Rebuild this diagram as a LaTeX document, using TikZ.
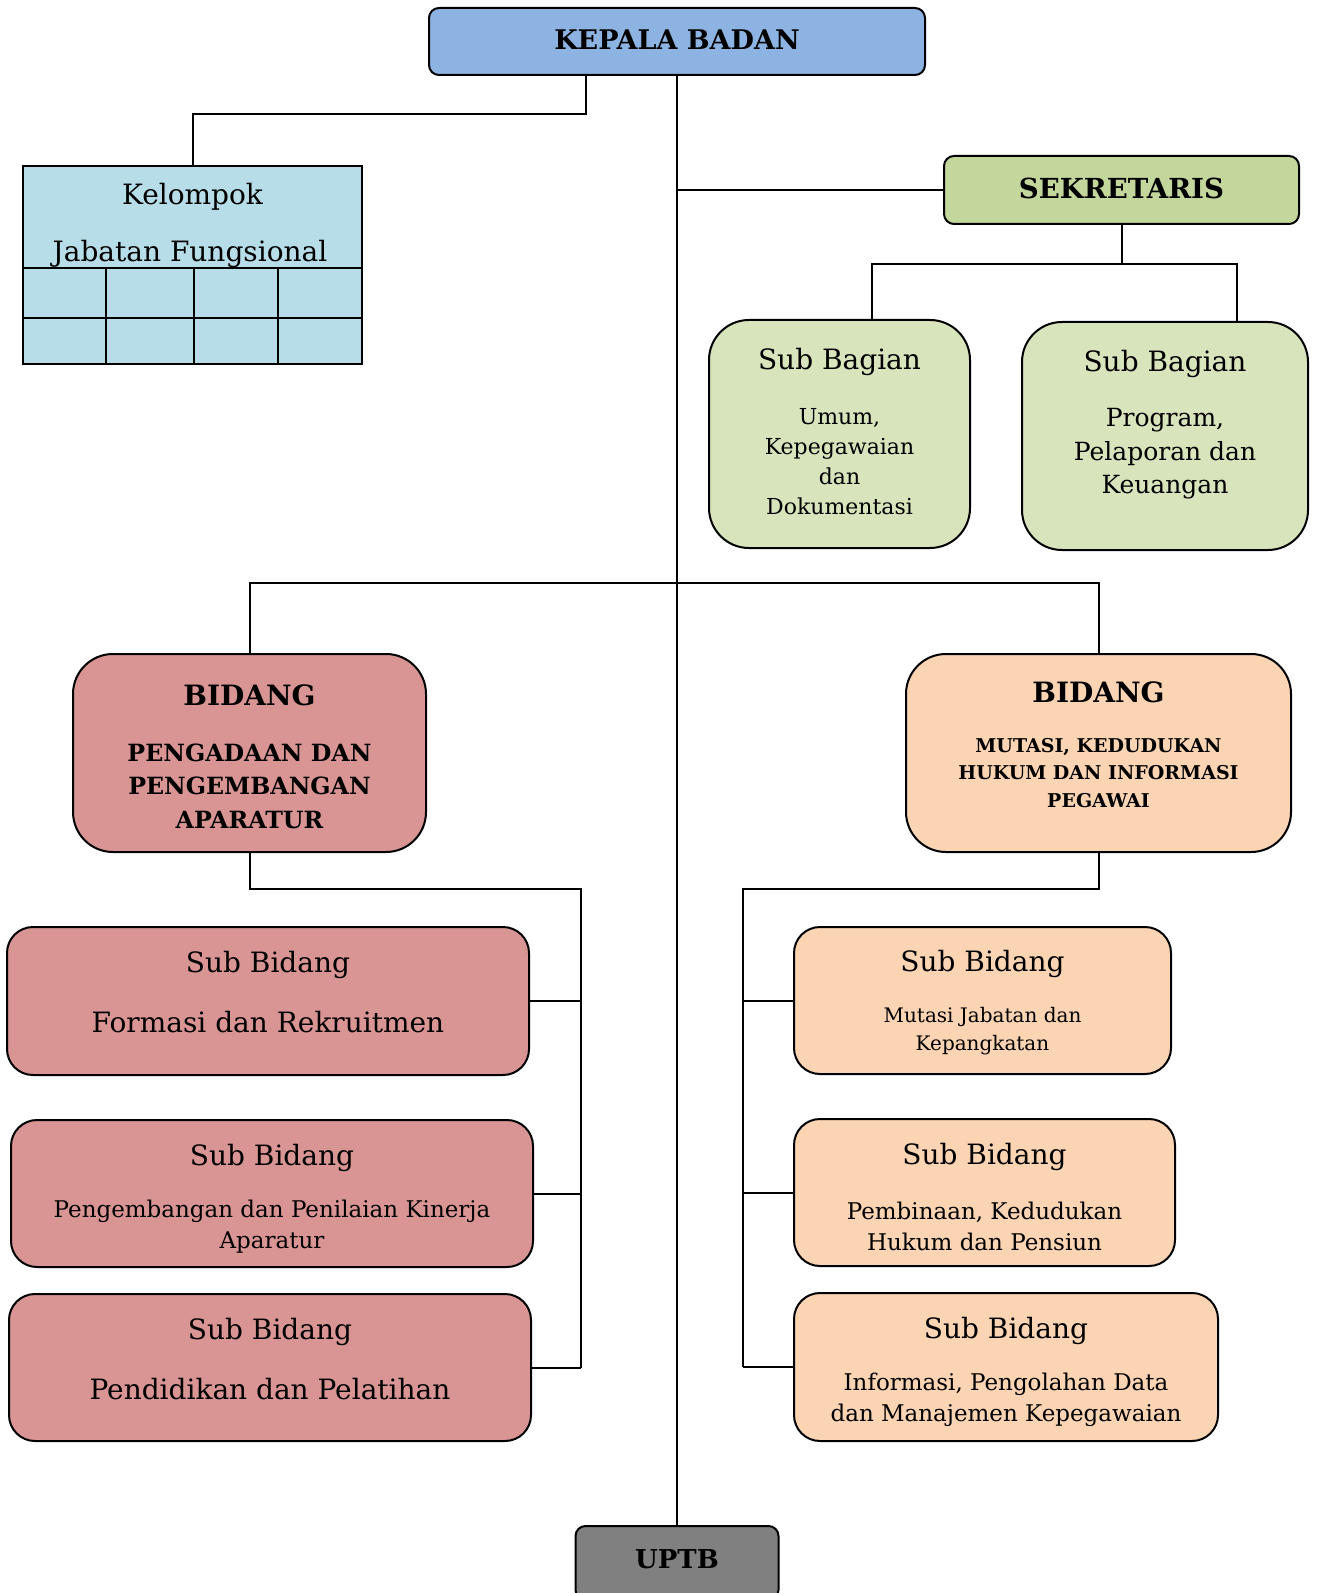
\documentclass[tikz,border=0pt]{standalone}
\usepackage{fontspec}
\setmainfont{DejaVu Serif}
\definecolor{cKepala}{HTML}{8DB3E2}
\definecolor{cJab}{HTML}{B6DDE8}
\definecolor{cSek}{HTML}{C3D69B}
\definecolor{cSubBag}{HTML}{D7E4BC}
\definecolor{cBidL}{HTML}{D99594}
\definecolor{cBidR}{HTML}{FBD4B4}
\definecolor{cUptb}{HTML}{808080}
\tikzset{
  box/.style={draw=black, line width=1pt, inner sep=0pt, outer sep=0pt},
  conn/.style={draw=black, line width=1pt},
  txt/.style={inner sep=0pt, align=center, text=black},
}
\newcommand{\fs}[2]{\fontsize{#1}{#2}\selectfont}
\begin{document}
\begin{tikzpicture}[x=0.5pt, y=-0.5pt]
\useasboundingbox (0,0) rectangle (1321,1593);
% boxes
\node[box, fill=cKepala, rounded corners=5pt, minimum width=248pt, minimum height=33.5pt] (kepala) at (677,41.5) {};
\node[box, fill=cJab, minimum width=169.5pt, minimum height=99pt] (jab) at (192.5,265) {};
\node[box, fill=cSek, rounded corners=5pt, minimum width=177.5pt, minimum height=34pt] (sek) at (1121.5,190) {};
\node[box, fill=cSubBag, rounded corners=20pt, minimum width=130.5pt, minimum height=114pt] (sb1) at (839.5,434) {};
\node[box, fill=cSubBag, rounded corners=20pt, minimum width=143pt, minimum height=114pt] (sb2) at (1165,436) {};
\node[box, fill=cBidL, rounded corners=20pt, minimum width=176.5pt, minimum height=99pt] (bl) at (249.5,753) {};
\node[box, fill=cBidR, rounded corners=20pt, minimum width=192.5pt, minimum height=99pt] (br) at (1098.5,753) {};
\node[box, fill=cBidL, rounded corners=13pt, minimum width=261pt, minimum height=74pt] (l1) at (268,1001) {};
\node[box, fill=cBidL, rounded corners=13pt, minimum width=261pt, minimum height=73.5pt] (l2) at (272,1193.5) {};
\node[box, fill=cBidL, rounded corners=13pt, minimum width=261pt, minimum height=73.5pt] (l3) at (270,1367.5) {};
\node[box, fill=cBidR, rounded corners=13pt, minimum width=188.5pt, minimum height=73.5pt] (r1) at (982.5,1000.5) {};
\node[box, fill=cBidR, rounded corners=13pt, minimum width=190.5pt, minimum height=73.5pt] (r2) at (984.5,1192.5) {};
\node[box, fill=cBidR, rounded corners=13pt, minimum width=212pt, minimum height=74pt] (r3) at (1006,1367) {};
\node[box, fill=cUptb, rounded corners=5pt, minimum width=101.5pt, minimum height=37pt] (uptb) at (677,1563) {};
% grid inside Jabatan Fungsional box
\draw[conn] (23,268) -- (362,268);
\draw[conn] (23,318) -- (362,318);
\draw[conn] (106,268) -- (106,364);
\draw[conn] (194,268) -- (194,364);
\draw[conn] (278,268) -- (278,364);
% texts
\node[txt, font=\bfseries\fs{13.5}{16}] (t-kepala) at (677,40) {KEPALA BADAN};
\node[txt, font=\fs{14}{16}] (t-jab1) at (192.5,197) {Kelompok};
\node[txt, font=\fs{14}{16}] (t-jab2) at (190,254) {Jabatan Fungsional};
\node[txt, font=\bfseries\fs{13.8}{16}] (t-sek) at (1121.5,188) {SEKRETARIS};
\node[txt, font=\fs{14}{16}] (t-sb1a) at (839.5,362) {Sub Bagian};
\node[txt, font=\fs{11}{15}] (t-sb1b) at (839.5,461.5) {Umum,\\Kepegawaian\\dan\\Dokumentasi};
\node[txt, font=\fs{14}{16}] (t-sb2a) at (1165,364) {Sub Bagian};
\node[txt, font=\fs{12.5}{16.75}] (t-sb2b) at (1165,454) {Program,\\Pelaporan dan\\Keuangan};
\node[txt, font=\bfseries\fs{14}{16}] (t-bl1) at (249.5,695) {BIDANG};
\node[txt, font=\bfseries\fs{11.85}{16.75}] (t-bl2) at (249.5,786) {PENGADAAN DAN\\PENGEMBANGAN\\APARATUR};
\node[txt, font=\bfseries\fs{14}{16}] (t-br1) at (1098.5,692) {BIDANG};
\node[txt, font=\bfseries\fs{9.5}{13.75}] (t-br2) at (1098.5,773) {MUTASI, KEDUDUKAN\\HUKUM DAN INFORMASI\\PEGAWAI};
\node[txt, font=\fs{14}{16}] (t-l1a) at (268,965) {Sub Bidang};
\node[txt, font=\fs{14}{16}] (t-l1b) at (268,1022) {Formasi dan Rekruitmen};
\node[txt, font=\fs{14}{16}] (t-l2a) at (272,1158) {Sub Bidang};
\node[txt, font=\fs{11.5}{15.5}] (t-l2b) at (272,1226.5) {Pengembangan dan Penilaian Kinerja\\Aparatur};
\node[txt, font=\fs{14}{16}] (t-l3a) at (270,1332) {Sub Bidang};
\node[txt, font=\fs{14}{16}] (t-l3b) at (270,1389) {Pendidikan dan Pelatihan};
\node[txt, font=\fs{14}{16}] (t-r1a) at (982.5,964) {Sub Bidang};
\node[txt, font=\fs{10}{14}] (t-r1b) at (982.5,1031.5) {Mutasi Jabatan dan\\Kepangkatan};
\node[txt, font=\fs{14}{16}] (t-r2a) at (984.5,1157) {Sub Bidang};
\node[txt, font=\fs{11.5}{15.5}] (t-r2b) at (984.5,1226) {Pembinaan, Kedudukan\\Hukum dan Pensiun};
\node[txt, font=\fs{14}{16}] (t-r3a) at (1006,1331) {Sub Bidang};
\node[txt, font=\fs{11.5}{15.5}] (t-r3b) at (1006,1400) {Informasi, Pengolahan Data\\dan Manajemen Kepegawaian};
\node[txt, font=\bfseries\fs{13}{15}] (t-uptb) at (677,1559) {UPTB};
% junction coordinates
\coordinate (jk) at (586,114);
\coordinate (sa) at (872,264);
\coordinate (sb) at (1237,264);
\coordinate (bj) at (677,583);
\coordinate (lv) at (581,889);
\coordinate (rv) at (743,889);
% connectors
\draw[conn] (kepala.south -| jk) -- (jk) -- (jk -| jab.north) -- (jab.north);
\draw[conn] (kepala.south) -- (uptb.north);
\draw[conn] (kepala.south |- sek.west) -- (sek.west);
\draw[conn] (sek.south) -- (sek.south |- sa);
\draw[conn] (sa |- sb1.north) -- (sa) -- (sb) -- (sb |- sb2.north);
\draw[conn] (bl.north) -- (bl.north |- bj) -- (br.north |- bj) -- (br.north);
\draw[conn] (bl.south) -- (bl.south |- lv) -- (lv) -- (lv |- l3.east);
\draw[conn] (l1.east) -- (l1.east -| lv);
\draw[conn] (l2.east) -- (l2.east -| lv);
\draw[conn] (l3.east) -- (l3.east -| lv);
\draw[conn] (br.south) -- (br.south |- rv) -- (rv) -- (rv |- r3.west);
\draw[conn] (rv |- r1.west) -- (r1.west);
\draw[conn] (rv |- r2.west) -- (r2.west);
\draw[conn] (rv |- r3.west) -- (r3.west);
\end{tikzpicture}
\end{document}
